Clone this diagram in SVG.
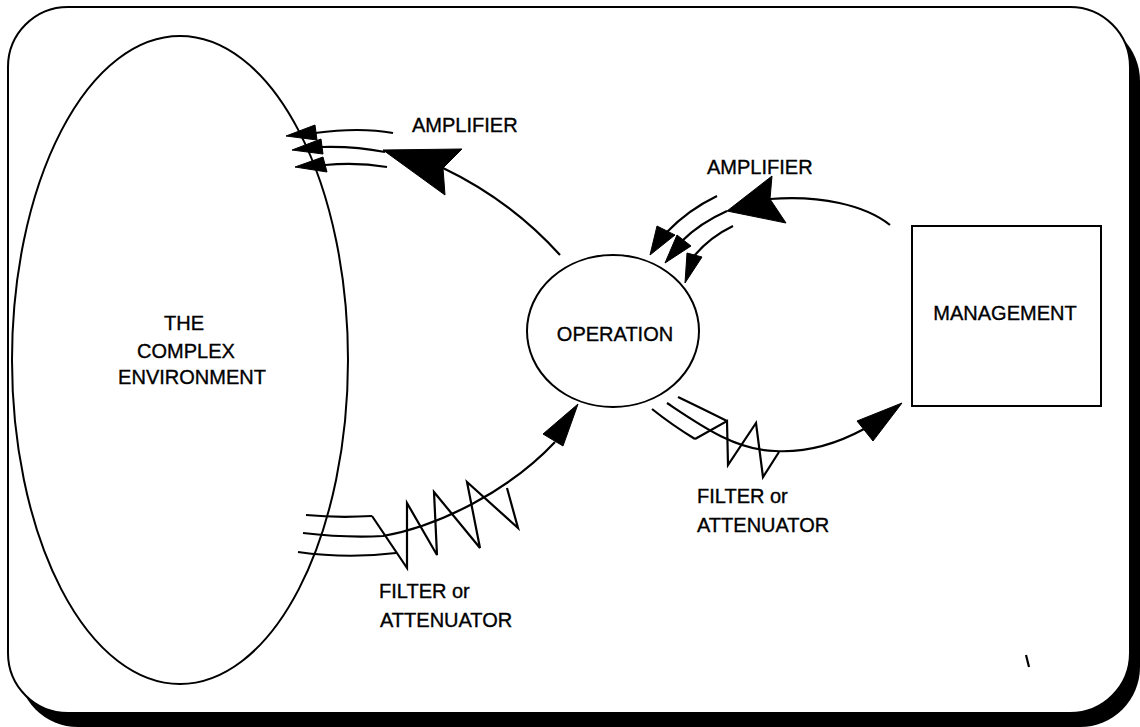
<svg xmlns="http://www.w3.org/2000/svg" width="1140" height="727" viewBox="0 0 1140 727">
  <style>
    .line { fill: none; stroke: #000; stroke-width: 2.2; stroke-linejoin: miter; }
    .shape { fill: #fff; stroke: #000; stroke-width: 2; }
    .head { fill: #000; stroke: #000; stroke-width: 1; stroke-linejoin: miter; }
    .label { font-family: "Liberation Sans", Arial, sans-serif; font-size: 20px; fill: #000; stroke: #000; stroke-width: 0.35; }
    .mid { text-anchor: middle; }
  </style>

  <!-- page frame with drop shadow -->
  <g id="frame">
    <rect x="18" y="21" width="1122" height="706" rx="60" ry="60" fill="#000"/>
    <rect x="8" y="7" width="1122" height="706" rx="60" ry="60" class="shape"/>
  </g>

  <!-- nodes -->
  <g id="environment">
    <ellipse cx="180" cy="360" rx="168" ry="324" class="shape"/>
    <text class="label mid" x="184" y="330">THE</text>
    <text class="label mid" x="186" y="358">COMPLEX</text>
    <text class="label mid" x="192" y="384">ENVIRONMENT</text>
  </g>

  <g id="operation">
    <ellipse cx="613" cy="331" rx="86" ry="76" class="shape"/>
    <text class="label mid" x="615" y="341">OPERATION</text>
  </g>

  <g id="management">
    <rect x="912" y="226" width="189" height="180" class="shape"/>
    <text class="label mid" x="1005" y="320">MANAGEMENT</text>
  </g>

  <!-- connectors -->
  <g id="connectors">
    <!-- amplifier: operation to environment -->
    <path class="line" d="M560,255 Q510,200 443,168"/>
    <polygon class="head" points="383,150 462,149 443,168 445,195"/>
    <path class="line" d="M393,133 Q360,127 315,133"/>
    <polygon class="head" points="286,136 315,125 317,140"/>
    <path class="line" d="M385,152 Q355,146 321,147"/>
    <polygon class="head" points="292,150 321,139 323,154"/>
    <path class="line" d="M387,167 Q357,162 325,165"/>
    <polygon class="head" points="295,167 323,157 327,172"/>

    <!-- filter: environment to operation -->
    <path class="line" d="M306,515 Q337,518 372,516"/>
    <path class="line" d="M303,533 Q345,538 383,536 C440,526 510,490 555,442"/>
    <path class="line" d="M298,552 Q347,559 396,553"/>
    <polyline class="line" points="372,516 407,568 407,503 437,555 434,492 480,548 467,482 518,528 507,488"/>
    <polygon class="head" points="578,404 543,434 563,446"/>

    <!-- amplifier: management to operation -->
    <path class="line" d="M890,225 C865,205 820,195 770,199"/>
    <polygon class="head" points="727,211 772,176 770,199 786,223"/>
    <path class="line" d="M717,196 Q688,210 667,232"/>
    <polygon class="head" points="650,255 657,226 675,235"/>
    <path class="line" d="M727,211 Q700,223 682,241"/>
    <polygon class="head" points="665,263 677,235 691,246"/>
    <path class="line" d="M733,226 Q710,237 694,256"/>
    <polygon class="head" points="685,283 687,253 702,257"/>

    <!-- filter: operation to management -->
    <path class="line" d="M678,397 Q705,410 727,421"/>
    <path class="line" d="M667,403 C700,425 735,450 775,451 C810,453 840,442 864,429"/>
    <path class="line" d="M652,409 Q672,425 695,439"/>
    <polyline class="line" points="695,439 727,421 728,465 756,423 763,477 779,452"/>
    <polygon class="head" points="902,403 857,421 873,441"/>
  </g>

  <!-- labels -->
  <g id="labels">
    <text class="label" x="412" y="132">AMPLIFIER</text>
    <text class="label" x="707" y="174">AMPLIFIER</text>
    <text class="label" x="379" y="598">FILTER or</text>
    <text class="label" x="380" y="627">ATTENUATOR</text>
    <text class="label" x="697" y="503">FILTER or</text>
    <text class="label" x="697" y="532">ATTENUATOR</text>
  </g>

  <!-- stray pen mark -->
  <line class="line" x1="1026" y1="655" x2="1029" y2="667"/>
</svg>
